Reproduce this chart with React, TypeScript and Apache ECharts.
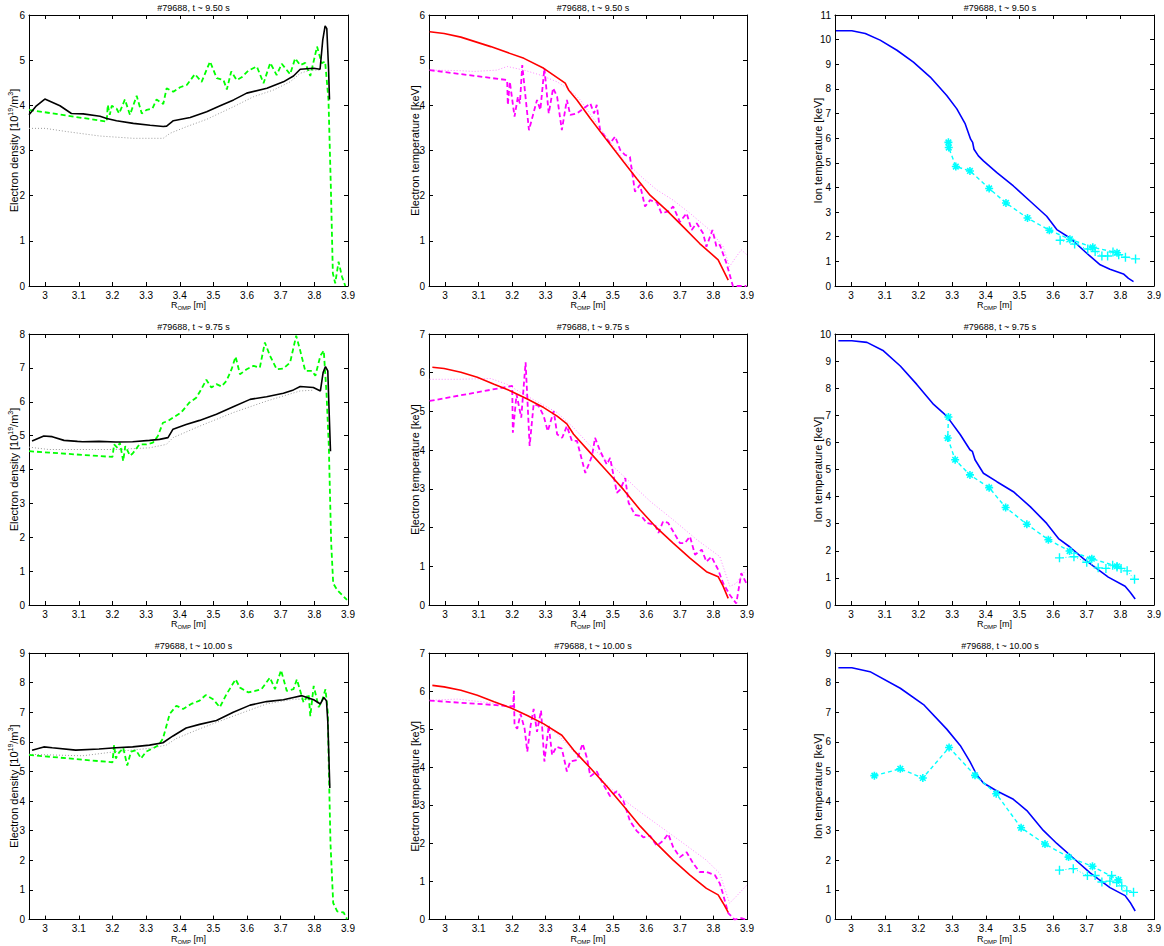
import React, { useEffect, useRef } from "react";
import * as echarts from "echarts";

type P = [number, number][];

// ---------- axes / labels ----------
const xTicks = [3, 3.1, 3.2, 3.3, 3.4, 3.5, 3.6, 3.7, 3.8, 3.9];
const xMin = 2.952;
const xMax = 3.9;
const titles = ["#79688, t ~ 9.50 s", "#79688, t ~ 9.75 s", "#79688, t ~ 10.00 s"];
const yMaxNe = [6, 8, 9];
const yMaxTe = [6, 7, 7];
const yMaxTi = [11, 10, 9];

// ---------- t ~ 9.50 s ----------
const neFit950: P = [[2.952,3.79],[2.974,3.99],[2.999,4.14],[3.044,3.99],[3.078,3.82],[3.113,3.81],[3.163,3.76],[3.183,3.71],[3.212,3.66],[3.262,3.60],[3.312,3.56],[3.351,3.53],[3.361,3.54],[3.381,3.66],[3.431,3.73],[3.480,3.86],[3.520,3.99],[3.560,4.12],[3.599,4.27],[3.659,4.38],[3.708,4.52],[3.738,4.65],[3.758,4.80],[3.798,4.82],[3.817,4.80],[3.825,5.45],[3.832,5.76],[3.837,5.70],[3.842,4.86],[3.845,4.13]];
const neMeas950: P = [[2.952,3.90],[3.183,3.64],[3.186,4.01],[3.192,3.79],[3.198,3.99],[3.212,3.93],[3.220,3.82],[3.237,4.13],[3.252,3.79],[3.272,4.21],[3.287,3.82],[3.302,3.90],[3.319,3.93],[3.331,4.13],[3.351,4.03],[3.361,4.38],[3.381,4.30],[3.401,4.40],[3.421,4.45],[3.445,4.69],[3.465,4.52],[3.490,4.97],[3.510,4.60],[3.530,4.56],[3.540,4.35],[3.553,4.75],[3.569,4.56],[3.584,4.62],[3.604,4.77],[3.629,4.86],[3.649,4.49],[3.669,4.94],[3.688,4.67],[3.703,4.92],[3.728,4.69],[3.743,5.04],[3.758,4.89],[3.773,4.94],[3.788,4.65],[3.808,5.30],[3.822,4.93],[3.832,4.97],[3.842,4.12],[3.849,2.20],[3.855,0.28],[3.862,0.06],[3.872,0.54],[3.882,0.21],[3.892,0]];
const neAlt950: P = [[2.952,3.49],[3.0,3.49],[3.063,3.42],[3.163,3.32],[3.262,3.27],[3.351,3.27],[3.371,3.38],[3.421,3.53],[3.480,3.69],[3.560,3.97],[3.619,4.19],[3.679,4.34],[3.728,4.52],[3.758,4.71],[3.788,4.78],[3.817,4.78]];
const teFit950: P = [[2.954,5.63],[2.997,5.59],[3.047,5.51],[3.136,5.30],[3.235,5.04],[3.294,4.82],[3.358,4.49],[3.368,4.34],[3.393,4.12],[3.433,3.71],[3.482,3.23],[3.532,2.75],[3.571,2.38],[3.611,2.01],[3.660,1.68],[3.710,1.31],[3.759,0.94],[3.814,0.58],[3.824,0.43],[3.844,0.13]];
const teMeas950: P = [[2.954,4.78],[3.185,4.56],[3.187,4.01],[3.193,4.52],[3.207,3.75],[3.217,4.19],[3.223,4.04],[3.230,4.89],[3.250,3.45],[3.274,4.12],[3.284,3.90],[3.296,4.82],[3.309,3.82],[3.322,4.38],[3.334,4.19],[3.348,3.45],[3.363,4.12],[3.373,3.79],[3.393,3.82],[3.413,3.93],[3.433,4.04],[3.444,3.82],[3.452,4.01],[3.462,3.45],[3.477,3.31],[3.492,3.16],[3.507,3.31],[3.522,3.01],[3.537,2.90],[3.551,2.86],[3.566,2.09],[3.581,2.24],[3.596,1.76],[3.611,1.90],[3.631,1.85],[3.645,1.61],[3.665,1.65],[3.680,1.76],[3.700,1.42],[3.720,1.61],[3.735,1.24],[3.750,1.39],[3.769,1.17],[3.779,0.87],[3.797,1.24],[3.809,0.87],[3.819,0.91],[3.839,0.50],[3.858,0],[3.898,0]];
const teAlt950: P = [[2.954,4.78],[3.037,4.77],[3.086,4.75],[3.155,4.78],[3.185,4.86],[3.235,4.78],[3.284,4.67],[3.334,4.52],[3.373,4.34],[3.403,4.12],[3.452,3.60],[3.532,2.79],[3.591,2.38],[3.631,2.13],[3.680,1.90],[3.730,1.61],[3.789,1.24],[3.829,0.87],[3.848,0.43],[3.868,0.65],[3.883,0.80],[3.900,0.69]];
const tiFit950: P = [[2.955,10.36],[3.002,10.36],[3.042,10.25],[3.086,9.98],[3.136,9.57],[3.185,9.09],[3.235,8.48],[3.284,7.73],[3.314,7.19],[3.339,6.58],[3.355,5.96],[3.361,5.83],[3.365,5.55],[3.378,5.28],[3.393,5.08],[3.433,4.60],[3.482,4.06],[3.532,3.44],[3.581,2.83],[3.611,2.29],[3.650,1.95],[3.700,1.33],[3.740,0.86],[3.769,0.68],[3.809,0.49],[3.824,0.31],[3.839,0.18]];
const tiCx950: P = [[3.289,5.83],[3.290,5.62],[3.311,4.85],[3.353,4.67],[3.410,3.96],[3.460,3.37],[3.524,2.76],[3.589,2.26],[3.650,1.90],[3.718,1.57],[3.790,1.35]];
const tiEdge950: P = [[3.621,1.86],[3.664,1.70],[3.703,1.50],[3.725,1.40],[3.745,1.22],[3.762,1.22],[3.778,1.38],[3.795,1.27],[3.815,1.17],[3.845,1.10]];

// ---------- t ~ 9.75 s ----------
const neFit975: P = [[2.961,4.84],[2.996,4.99],[3.021,4.97],[3.056,4.86],[3.096,4.83],[3.111,4.82],[3.160,4.83],[3.210,4.81],[3.260,4.82],[3.310,4.86],[3.340,4.89],[3.365,4.94],[3.380,5.19],[3.419,5.33],[3.459,5.45],[3.509,5.63],[3.559,5.85],[3.609,6.07],[3.658,6.15],[3.708,6.25],[3.738,6.35],[3.758,6.45],[3.797,6.42],[3.818,6.32],[3.826,6.86],[3.833,7.04],[3.840,6.91],[3.843,5.98],[3.848,4.54]];
const neMeas975: P = [[2.952,4.54],[3.200,4.37],[3.205,4.74],[3.215,4.64],[3.222,4.79],[3.232,4.25],[3.238,4.69],[3.252,4.41],[3.260,4.47],[3.280,4.74],[3.300,4.74],[3.320,4.79],[3.335,4.99],[3.350,5.38],[3.365,5.43],[3.380,5.53],[3.404,5.68],[3.429,5.98],[3.449,6.12],[3.464,6.37],[3.479,6.65],[3.494,6.42],[3.509,6.52],[3.524,6.45],[3.539,6.62],[3.554,6.96],[3.566,7.33],[3.579,6.81],[3.599,6.96],[3.619,7.06],[3.638,7.01],[3.653,7.75],[3.668,7.36],[3.688,6.96],[3.708,6.98],[3.728,7.16],[3.746,7.95],[3.758,7.51],[3.773,6.91],[3.793,6.91],[3.803,6.77],[3.818,7.36],[3.828,7.51],[3.836,6.27],[3.843,4.69],[3.850,1.83],[3.856,0.64],[3.868,0.44],[3.882,0.30],[3.897,0.15]];
const neAlt975: P = [[2.952,4.66],[3.011,4.59],[3.111,4.59],[3.210,4.59],[3.310,4.64],[3.360,4.74],[3.380,4.94],[3.459,5.28],[3.559,5.68],[3.658,6.02],[3.758,6.32],[3.797,6.34]];
const teFit975: P = [[2.962,6.14],[2.997,6.11],[3.047,6.01],[3.096,5.88],[3.146,5.70],[3.195,5.53],[3.245,5.32],[3.294,5.10],[3.334,4.88],[3.363,4.68],[3.383,4.41],[3.433,3.93],[3.482,3.46],[3.532,2.98],[3.581,2.46],[3.631,1.99],[3.680,1.60],[3.730,1.21],[3.779,0.86],[3.814,0.73],[3.829,0.48],[3.844,0.17]];
const teMeas975: P = [[2.954,5.27],[3.200,5.66],[3.202,4.45],[3.213,5.44],[3.227,4.84],[3.240,6.27],[3.252,4.11],[3.264,5.19],[3.279,5.14],[3.294,4.88],[3.306,4.49],[3.324,5.01],[3.334,4.41],[3.349,4.32],[3.363,4.62],[3.378,4.24],[3.393,4.24],[3.418,3.41],[3.438,3.85],[3.447,4.32],[3.462,3.98],[3.482,3.63],[3.492,3.80],[3.512,2.90],[3.522,2.98],[3.537,3.28],[3.547,2.64],[3.566,2.33],[3.586,2.29],[3.601,2.12],[3.626,2.07],[3.636,1.86],[3.650,2.16],[3.665,2.12],[3.680,1.90],[3.700,1.60],[3.715,1.60],[3.730,1.77],[3.745,1.30],[3.765,1.43],[3.779,1.12],[3.794,1.25],[3.814,0.91],[3.829,0.56],[3.849,0.26],[3.868,0.04],[3.883,0.82],[3.898,0.56]];
const teAlt975: P = [[2.954,5.83],[3.037,5.83],[3.136,5.85],[3.185,5.70],[3.235,5.44],[3.334,4.97],[3.383,4.58],[3.433,4.11],[3.532,3.33],[3.611,2.68],[3.680,2.20],[3.750,1.69],[3.819,1.25],[3.849,0.48],[3.868,0.56],[3.900,0.95]];
const tiFit975: P = [[2.962,9.75],[3.002,9.75],[3.047,9.69],[3.096,9.38],[3.146,8.82],[3.195,8.14],[3.245,7.40],[3.284,6.97],[3.324,6.29],[3.353,5.73],[3.360,5.67],[3.368,5.36],[3.393,4.86],[3.433,4.55],[3.482,4.18],[3.532,3.63],[3.581,3.01],[3.616,2.45],[3.650,2.14],[3.690,1.71],[3.730,1.34],[3.764,1.03],[3.814,0.69],[3.829,0.47],[3.844,0.22]];
const tiCx975: P = [[3.289,6.94],[3.287,6.16],[3.309,5.36],[3.353,4.80],[3.410,4.33],[3.459,3.60],[3.522,2.98],[3.586,2.41],[3.649,1.99],[3.715,1.71],[3.790,1.43]];
const tiEdge975: P = [[3.619,1.74],[3.662,1.78],[3.700,1.58],[3.734,1.37],[3.757,1.35],[3.777,1.47],[3.790,1.40],[3.802,1.35],[3.820,1.26],[3.842,0.95]];

// ---------- t ~ 10.00 s ----------
const neFit1000: P = [[2.961,5.72],[2.996,5.83],[3.021,5.80],[3.091,5.72],[3.160,5.76],[3.210,5.80],[3.260,5.83],[3.310,5.89],[3.350,5.97],[3.380,6.20],[3.419,6.47],[3.459,6.59],[3.509,6.72],[3.559,7.00],[3.609,7.24],[3.658,7.36],[3.708,7.42],[3.738,7.50],[3.763,7.56],[3.798,7.42],[3.818,7.28],[3.828,7.50],[3.836,7.39],[3.840,6.67],[3.846,4.44]];
const neMeas1000: P = [[2.952,5.56],[3.200,5.31],[3.205,5.89],[3.210,5.44],[3.218,5.61],[3.232,5.80],[3.244,5.20],[3.255,5.67],[3.270,5.72],[3.285,5.44],[3.300,5.67],[3.320,5.78],[3.337,5.89],[3.350,6.11],[3.370,6.94],[3.390,7.22],[3.410,7.11],[3.434,7.28],[3.459,7.39],[3.477,7.58],[3.499,7.44],[3.519,7.17],[3.539,7.61],[3.566,8.11],[3.579,7.83],[3.604,7.67],[3.624,7.72],[3.643,7.78],[3.668,8.17],[3.683,7.78],[3.701,8.42],[3.718,7.72],[3.738,7.78],[3.748,8.11],[3.768,7.33],[3.783,7.61],[3.788,6.87],[3.798,7.89],[3.813,7.17],[3.823,7.39],[3.833,7.78],[3.840,7.00],[3.843,5.11],[3.848,2.56],[3.856,0.56],[3.868,0.28],[3.887,0.24],[3.897,0.02]];
const neAlt1000: P = [[2.952,5.58],[3.011,5.56],[3.111,5.53],[3.210,5.67],[3.310,5.78],[3.360,5.89],[3.389,6.11],[3.459,6.44],[3.559,6.87],[3.658,7.28],[3.738,7.44],[3.798,7.44]];
const teFit1000: P = [[2.962,6.15],[2.997,6.11],[3.047,6.02],[3.096,5.89],[3.146,5.72],[3.195,5.56],[3.245,5.36],[3.294,5.14],[3.348,4.84],[3.383,4.45],[3.433,3.98],[3.482,3.50],[3.532,2.98],[3.581,2.46],[3.631,1.99],[3.680,1.56],[3.730,1.17],[3.779,0.82],[3.814,0.65],[3.829,0.43],[3.844,0.19]];
const teMeas1000: P = [[2.954,5.75],[3.203,5.60],[3.205,6.01],[3.207,5.10],[3.215,5.01],[3.225,5.40],[3.237,5.01],[3.245,4.41],[3.255,5.10],[3.264,5.53],[3.274,4.93],[3.286,5.49],[3.296,4.15],[3.309,5.10],[3.319,4.32],[3.332,4.54],[3.348,4.49],[3.363,3.89],[3.373,4.15],[3.393,4.19],[3.410,4.62],[3.423,4.24],[3.433,3.76],[3.452,3.89],[3.472,3.54],[3.492,3.24],[3.512,3.37],[3.532,3.11],[3.551,2.59],[3.571,2.33],[3.591,2.16],[3.611,2.20],[3.631,1.94],[3.650,2.07],[3.665,2.25],[3.680,1.90],[3.700,1.64],[3.720,1.77],[3.740,1.47],[3.759,1.25],[3.779,1.25],[3.804,1.17],[3.819,0.95],[3.829,0.65],[3.844,0.17],[3.863,0],[3.883,0.04],[3.898,0]];
const teAlt1000: P = [[2.954,5.76],[3.037,5.79],[3.136,5.69],[3.185,5.60],[3.235,5.40],[3.334,4.88],[3.393,4.32],[3.482,3.54],[3.551,3.02],[3.631,2.51],[3.700,2.07],[3.779,1.56],[3.819,1.21],[3.848,0.43],[3.868,0.61],[3.900,0.91]];
const tiFit1000: P = [[2.962,8.50],[3.002,8.50],[3.056,8.37],[3.146,7.81],[3.215,7.26],[3.284,6.43],[3.324,5.88],[3.353,5.33],[3.373,4.89],[3.393,4.61],[3.433,4.34],[3.482,4.06],[3.522,3.68],[3.571,3.01],[3.611,2.57],[3.660,2.08],[3.710,1.58],[3.769,1.08],[3.814,0.81],[3.829,0.58],[3.844,0.29]];
const tiCx1000: P = [[3.069,4.86],[3.146,5.09],[3.213,4.78],[3.291,5.81],[3.368,4.87],[3.431,4.25],[3.505,3.10],[3.576,2.55],[3.646,2.11],[3.717,1.80],[3.794,1.34]];
const tiEdge1000: P = [[3.619,1.67],[3.660,1.72],[3.702,1.49],[3.725,1.49],[3.745,1.27],[3.769,1.30],[3.774,1.49],[3.789,1.25],[3.804,1.14],[3.819,0.97],[3.839,0.92]];

// ---------- layout ----------
const colLeft = [29, 429, 835];
const colWidth = [319, 318, 320];
const rowTop = [15, 334, 653];
const rowHeight = [271, 271, 270];

const FONT = "Liberation Sans, Arial, Helvetica, sans-serif";
const ASTERISK = "path://M5,0L5,10M0,5L10,5M1.5,1.5L8.5,8.5M1.5,8.5L8.5,1.5";
const PLUS = "path://M5,0L5,10M0,5L10,5";

const richX = {
  n: { fontSize: 9, lineHeight: 12, fontFamily: FONT, color: "#000" },
  sub: { fontSize: 6, lineHeight: 6, verticalAlign: "bottom", fontFamily: FONT, color: "#000" },
};
const richY = {
  n: { fontSize: 11, lineHeight: 14, fontFamily: FONT, color: "#000" },
  sup: { fontSize: 7, lineHeight: 7, verticalAlign: "top", fontFamily: FONT, color: "#000" },
};

const yNames = [
  "{n|Electron density [10}{sup|19}{n|/m}{sup|3}{n|]}",
  "{n|Electron temperature [keV]}",
  "{n|Ion temperature [keV]}",
];

const panelData = [
  [
    { kind: "ne", fit: neFit950, meas: neMeas950, alt: neAlt950 },
    { kind: "te", fit: teFit950, meas: teMeas950, alt: teAlt950 },
    { kind: "ti", fit: tiFit950, meas: tiCx950, alt: tiEdge950 },
  ],
  [
    { kind: "ne", fit: neFit975, meas: neMeas975, alt: neAlt975 },
    { kind: "te", fit: teFit975, meas: teMeas975, alt: teAlt975 },
    { kind: "ti", fit: tiFit975, meas: tiCx975, alt: tiEdge975 },
  ],
  [
    { kind: "ne", fit: neFit1000, meas: neMeas1000, alt: neAlt1000 },
    { kind: "te", fit: teFit1000, meas: teMeas1000, alt: teAlt1000 },
    { kind: "ti", fit: tiFit1000, meas: tiCx1000, alt: tiEdge1000 },
  ],
];

function buildOption() {
  const grid: any[] = [];
  const xAxis: any[] = [];
  const yAxis: any[] = [];
  const series: any[] = [];
  const title: any[] = [];
  const axisLine = { show: true, onZero: false, lineStyle: { color: "#000", width: 1 } };
  const tick = { show: true, inside: true, length: 4, lineStyle: { color: "#000", width: 1 } };
  const labelStyle = { color: "#000", fontSize: 10, fontFamily: FONT };

  for (let r = 0; r < 3; r++) {
    for (let c = 0; c < 3; c++) {
      const gi = grid.length;
      grid.push({ left: colLeft[c], top: rowTop[r], width: colWidth[c], height: rowHeight[r], show: false });
      title.push({
        text: titles[r],
        left: colLeft[c] + colWidth[c] / 2,
        top: rowTop[r] - 17,
        textAlign: "center",
        textStyle: { fontSize: 9, fontWeight: "normal", color: "#000", fontFamily: FONT },
      });
      const yMax = c === 0 ? yMaxNe[r] : c === 1 ? yMaxTe[r] : yMaxTi[r];
      const xb = xAxis.length;
      xAxis.push({
        type: "value", gridIndex: gi, min: xMin, max: xMax, position: "bottom",
        axisLine, axisTick: { ...tick, customValues: xTicks },
        axisLabel: { ...labelStyle, margin: 4, customValues: xTicks },
        splitLine: { show: false },
        name: "{n|R}{sub|OMP}{n| [m]}", nameLocation: "middle", nameGap: 10,
        nameTextStyle: { rich: richX },
      });
      xAxis.push({
        type: "value", gridIndex: gi, min: xMin, max: xMax, position: "top",
        axisLine, axisTick: { ...tick, customValues: xTicks },
        axisLabel: { show: false, customValues: xTicks }, splitLine: { show: false },
      });
      const yl = yAxis.length;
      const nameGap = c === 2 ? 10 : c === 1 ? 7 : 8;
      yAxis.push({
        type: "value", gridIndex: gi, min: 0, max: yMax, interval: 1, position: "left",
        axisLine, axisTick: tick, axisLabel: { ...labelStyle, margin: 4 }, splitLine: { show: false },
        name: yNames[c], nameLocation: "middle", nameGap, nameMoveOverlap: false,
        nameTextStyle: { rich: richY },
      });
      yAxis.push({
        type: "value", gridIndex: gi, min: 0, max: yMax, interval: 1, position: "right",
        axisLine, axisTick: tick, axisLabel: { show: false }, splitLine: { show: false },
      });

      const d = panelData[r][c];
      const base = { type: "line", xAxisIndex: xb, yAxisIndex: yl, symbol: "none", silent: true };
      if (d.kind === "ne") {
        series.push({ ...base, data: d.alt, lineStyle: { color: "#9a9a9a", width: 1, type: [1, 2] } });
        series.push({ ...base, data: d.meas, lineStyle: { color: "#00ff00", width: 1.8, type: [5, 3] } });
        series.push({ ...base, data: d.fit, lineStyle: { color: "#000000", width: 1.6 } });
      } else if (d.kind === "te") {
        series.push({ ...base, data: d.alt, lineStyle: { color: "#ff88ff", width: 1, type: [1, 2] } });
        series.push({ ...base, data: d.meas, lineStyle: { color: "#ff00ff", width: 1.8, type: [5, 3] } });
        series.push({ ...base, data: d.fit, lineStyle: { color: "#ff0000", width: 1.6 } });
      } else {
        series.push({ ...base, data: d.fit, lineStyle: { color: "#0000ff", width: 1.6 } });
        series.push({
          ...base, data: d.meas, symbol: ASTERISK, symbolSize: 8, showSymbol: true,
          itemStyle: { color: "#00ffff", borderColor: "#00ffff", borderWidth: 1.6 },
          lineStyle: { color: "#00ffff", width: 1.4, type: [4, 3] },
        });
        series.push({
          ...base, data: d.alt, symbol: PLUS, symbolSize: 9, showSymbol: true,
          itemStyle: { color: "#00ffff", borderColor: "#00ffff", borderWidth: 1.4 },
          lineStyle: { color: "#00ffff", width: 1, type: [1, 2] },
        });
      }
    }
  }
  return { animation: false, backgroundColor: "#ffffff", title, grid, xAxis, yAxis, series };
}

export default function App() {
  const ref = useRef<HTMLDivElement>(null);
  useEffect(() => {
    if (!ref.current) return;
    const chart = echarts.init(ref.current, undefined, { renderer: "svg" });
    chart.setOption(buildOption() as any);
    return () => chart.dispose();
  }, []);
  return (
    <div
      ref={ref}
      style={{ position: "fixed", left: 0, top: 0, width: 1164, height: 946, background: "#fff" }}
    />
  );
}
